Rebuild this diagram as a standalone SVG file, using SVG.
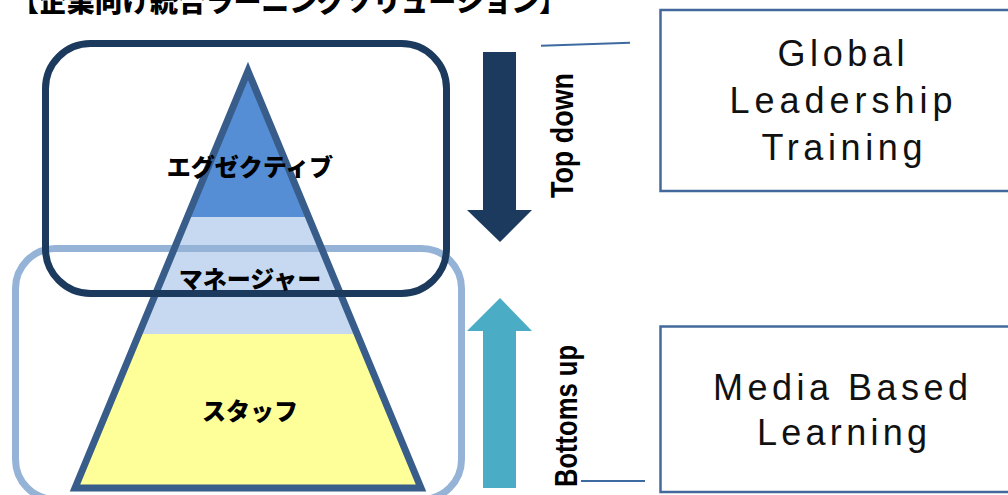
<svg xmlns="http://www.w3.org/2000/svg" width="1008" height="495" viewBox="0 0 1008 495">
<style>
.jp{font-family:"Noto Sans CJK JP","Noto Sans CJK SC",sans-serif;font-weight:900;fill:#000}
.lbl{font-family:"Noto Sans CJK JP",sans-serif;font-weight:900;font-size:24px;fill:#000;text-anchor:middle}
.rot{font-family:"Liberation Sans",Arial,sans-serif;font-weight:bold;font-size:32px;fill:#000;text-anchor:middle}
.box{fill:#fff;stroke:#43699c;stroke-width:2.5}
.bt{font-family:"Liberation Sans",Arial,sans-serif;font-size:36px;fill:#111;text-anchor:middle}
.conn{stroke:#3d6aa0;stroke-width:2;fill:none}
</style>
<rect width="1008" height="495" fill="#fff"/>
<text class="jp" x="11" y="12" font-size="28" textLength="556" lengthAdjust="spacing">【企業向け統合ラーニングソリューション】</text>

<g id="pyramid">
  <polygon points="248,71 308.7,217 187.3,217" fill="#558ed5"/>
  <polygon points="187.3,217 308.7,217 357.3,334 138.7,334" fill="#c6d9f1"/>
  <polygon points="138.7,334 357.3,334 421,488 75,488" fill="#ffff99"/>
</g>
<g id="bottom-group">
  <rect x="15.5" y="248.5" width="446" height="251" rx="40" ry="40" fill="none" stroke="#95b3d7" stroke-width="7"/>
</g>
<g id="pyramid-outline">
  <polygon points="248,71 421,488 75,488" fill="none" stroke="#385d8a" stroke-width="7" stroke-linejoin="miter" stroke-miterlimit="10"/>
</g>
<g id="top-group">
  <rect x="45.5" y="43.5" width="401" height="250" rx="45" ry="45" fill="none" stroke="#1c3a5e" stroke-width="7"/>
</g>
<g id="labels">
  <text class="lbl" x="250" y="176">エグゼクティブ</text>
  <text class="lbl" x="250" y="288">マネージャー</text>
  <text class="lbl" x="250" y="420">スタッフ</text>
</g>

<g id="arrow-down">
  <polygon points="483,52 516,52 516,210 532,210 500,242 467,210 483,210" fill="#1c3a5e"/>
  <text class="rot" transform="translate(573,135.5) rotate(-90)" textLength="125" lengthAdjust="spacingAndGlyphs">Top down</text>
</g>
<g id="arrow-up">
  <polygon points="500,298 532,331 516,331 516,488 483,488 483,331 467,331" fill="#4bacc6"/>
  <text class="rot" transform="translate(577,416) rotate(-90)" textLength="142" lengthAdjust="spacingAndGlyphs">Bottoms up</text>
</g>

<g id="connectors">
  <line class="conn" x1="541" y1="45.7" x2="630" y2="42.7"/>
  <line class="conn" x1="581" y1="481" x2="645" y2="481"/>
</g>

<g id="global-leadership">
  <rect class="box" x="660.5" y="10" width="380" height="181"/>
  <text class="bt" x="841" y="66" textLength="127" lengthAdjust="spacing">Global</text>
  <text class="bt" x="841" y="113" textLength="223" lengthAdjust="spacing">Leadership</text>
  <text class="bt" x="842" y="160" textLength="161" lengthAdjust="spacing">Training</text>
</g>
<g id="media-based">
  <rect class="box" x="660.5" y="326.5" width="380" height="165.5"/>
  <text class="bt" x="840.5" y="400" textLength="255" lengthAdjust="spacing">Media Based</text>
  <text class="bt" x="842" y="445" textLength="170" lengthAdjust="spacing">Learning</text>
</g>
</svg>
